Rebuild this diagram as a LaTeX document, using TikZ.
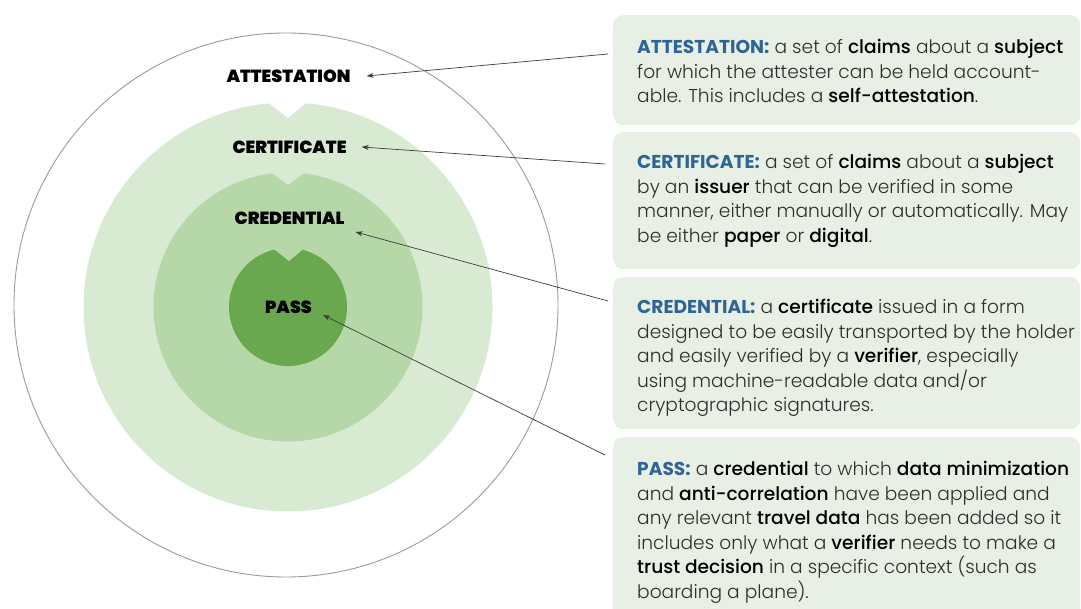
\documentclass[tikz,border=0pt]{standalone}
\usepackage{fontspec}
\setmainfont{Poppins}[UprightFont=*-Light,BoldFont=*-Medium]
\newfontfamily\ringfont{Poppins}[UprightFont=*-Black]
\newfontfamily\headfont{Poppins}[UprightFont=*-Bold]
\usepackage{tikz}
\usetikzlibrary{arrows.meta,positioning}
\definecolor{palegreen}{HTML}{D9EAD3}
\definecolor{midgreen}{HTML}{B6D7A8}
\definecolor{darkgreen}{HTML}{6AA84F}
\definecolor{boxgray}{HTML}{E8F0E5}
\definecolor{headblue}{HTML}{2F6497}
\definecolor{textgray}{HTML}{2E2E2E}
\definecolor{linegray}{HTML}{3C3C3C}
\definecolor{ringgray}{HTML}{9A9A9A}
\newcommand\hd[1]{{\headfont\color{headblue}#1}}
\newcommand\kw[1]{{\bfseries\color{black}#1}}

\begin{document}
\begin{tikzpicture}[x=1pt,y=-1pt,
    ring/.style={inner sep=0pt,font=\ringfont\fontsize{17.5}{18}\selectfont},
    defbox/.style={fill=boxgray,rounded corners=10pt,anchor=north west,minimum width=467pt,inner sep=0pt},
    deftext/.style={anchor=north west,align=left,inner sep=0pt,text=textgray,font=\fontsize{18.6}{24.5}\selectfont},
    conn/.style={draw=linegray,line width=0.7pt,-{Stealth[length=7pt,width=5pt]}}]
\useasboundingbox (0,0) rectangle (1081,609);
% rings
\draw[ringgray,line width=0.9pt] (286,305) circle (272);
\fill[palegreen] (288,307) circle (204.5);
\fill[white] (265,100) -- (288,118) -- (309,100) -- cycle;
\fill[midgreen] (288,307) circle (134.5);
\fill[palegreen] (268,170) -- (288,185) -- (308,170) -- cycle;
\fill[darkgreen] (288,307) circle (59);
\fill[midgreen] (270,246) -- (289,261) -- (307,246) -- cycle;
\node[ring] (att) at (288.5,76) {ATTESTATION};
\node[ring] (cert) at (289.5,147) {CERTIFICATE};
\node[ring] (cred) at (289.5,218) {CREDENTIAL};
\node[ring] (pass) at (288.5,307) {PASS};
% definitions
\node[defbox,minimum height=110pt] (attbox) at (613,15) {};
\node[defbox,minimum height=137pt] (certbox) at (613,132) {};
\node[defbox,minimum height=152pt] (credbox) at (613,277) {};
\node[defbox,minimum height=185pt] (passbox) at (613,437) {};
\node[deftext] (atttext) at (637,39) {\hd{ATTESTATION:} a set of \kw{claims} about a \kw{subject}\\
for which the attester can be held account-\\
able. This includes a \kw{self-attestation}.};
\node[deftext] (certtext) at (637,154) {\hd{CERTIFICATE:} a set of \kw{claims} about a \kw{subject}\\
by an \kw{issuer} that can be verified in some\\
manner, either manually or automatically. May\\
be either \kw{paper} or \kw{digital}.};
\node[deftext] (credtext) at (637,299) {\hd{CREDENTIAL:} a \kw{certificate} issued in a form\\
designed to be easily transported by the holder\\
and easily verified by a \kw{verifier}, especially\\
using machine-readable data and/or\\
cryptographic signatures.};
\node[deftext] (passtext) at (637,461) {\hd{PASS:} a \kw{credential} to which \kw{data minimization}\\
and \kw{anti-correlation} have been applied and\\
any relevant \kw{travel data} has been added so it\\
includes only what a \kw{verifier} needs to make a\\
\kw{trust decision} in a specific context (such as\\
boarding a plane).};
% pointers
\draw[conn] ([xshift=-5pt,yshift=-39pt]attbox.north west) -- ([xshift=16pt]att.east);
\draw[conn] ([xshift=-8pt,yshift=-32pt]certbox.north west) -- ([xshift=15pt]cert.east);
\draw[conn] ([xshift=-5pt,yshift=-24pt]credbox.north west) -- ([xshift=11pt,yshift=-14pt]cred.east);
\draw[conn] ([xshift=-8pt,yshift=-18pt]passbox.north west) -- ([xshift=11pt,yshift=-8pt]pass.east);
\end{tikzpicture}
\end{document}
